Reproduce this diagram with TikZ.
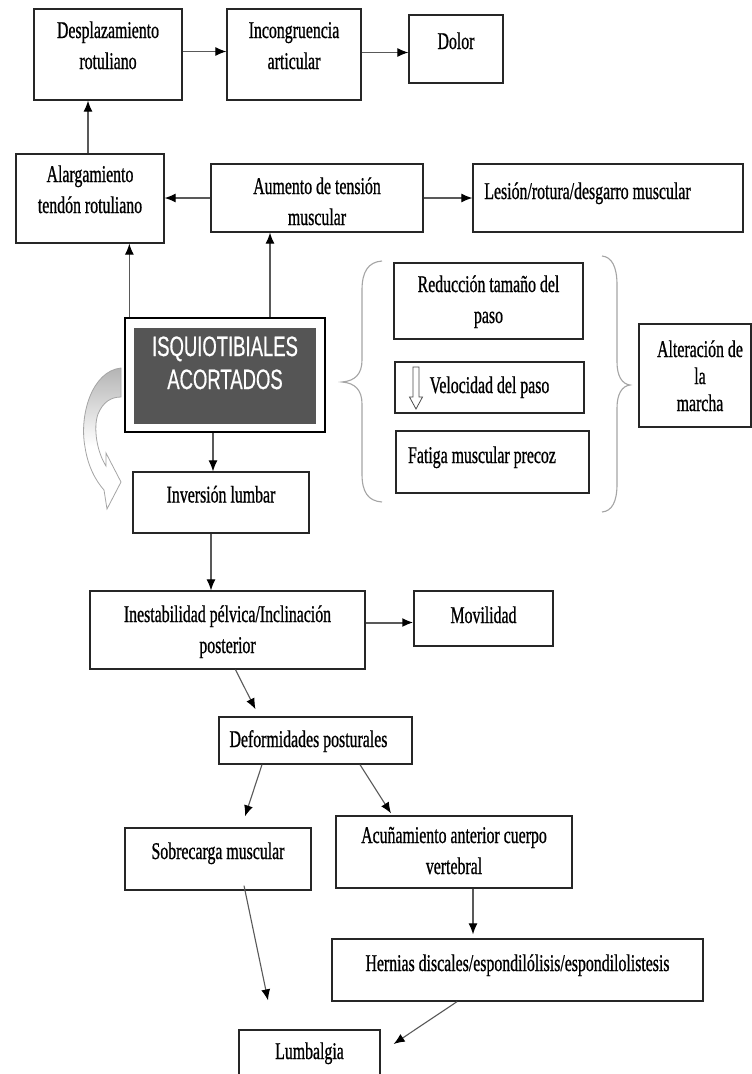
\documentclass[tikz,border=0pt]{standalone}
\usepackage{fontspec}
\setmainfont{Liberation Serif}[FakeStretch=0.66,FakeBold=0.8]
\newfontfamily\isqfont{Liberation Sans}[FakeStretch=0.66,FakeBold=0.6]
\usetikzlibrary{arrows.meta}
\definecolor{isqgris}{RGB}{85,85,85}
\definecolor{llavegris}{RGB}{165,165,165}
\tikzset{
	caja/.style={draw=black!85, line width=1.3pt, inner sep=0pt, align=center, text height=0pt, text depth=0pt, font=\fontsize{24}{31}\selectfont},
	flecha/.style={draw=black!65, line width=1.1pt, -{Latex[length=11pt,width=9pt,color=black]}},
	llave/.style={draw=llavegris, line width=1.1pt},
}
\begin{document}
\begin{tikzpicture}[x=1pt,y=-1pt]
			\useasboundingbox[fill=white] (0,0) rectangle (752,1074);
			\node[caja, minimum width=148, minimum height=91, text height=29pt] (desp) at (108,54.5) {Desplazamiento\\rotuliano};
			\node[caja, minimum width=134, minimum height=91, text height=29pt] (incong) at (294,54.5) {Incongruencia\\articular};
			\node[caja, minimum width=94, minimum height=68] (dolor) at (456,49) {Dolor};
			\node[caja, minimum width=148, minimum height=89, text height=29pt] (alarg) at (90,198.5) {Alargamiento\\tendón rotuliano};
			\node[caja, minimum width=212, minimum height=68, text height=54pt] (aumento) at (317,198) {Aumento de tensión\\muscular};
			\node[caja, minimum width=270, minimum height=68, text height=2pt] (lesion) at (608,198) {Lesión/rotura/desgarro muscular\hspace*{41pt}};
			\node[caja, draw=black, minimum width=200, minimum height=114, text height=28pt, text=white, font=\isqfont\fontsize{28}{33}\selectfont,
				path picture={\fill[isqgris] ([xshift=9pt,yshift=-10pt]path picture bounding box.north west) rectangle ([xshift=-9pt,yshift=8pt]path picture bounding box.south east);}] (isq) at (225,375) {ISQUIOTIBIALES\\ACORTADOS};
			\node[caja, minimum width=189, minimum height=76, text height=44pt] (reduc) at (488.5,301) {Reducción tamaño del\\paso};
			\node[caja, minimum width=189, minimum height=51, text height=11pt] (veloc) at (489.5,387.5) {Velocidad del paso};
			\node[caja, minimum width=193, minimum height=62, text height=2pt] (fatiga) at (492.5,462) {Fatiga muscular precoz\hspace*{21pt}};
			\node[caja, minimum width=112, minimum height=103, text height=71pt, font=\fontsize{24}{27}\selectfont] (alter) at (695,375.5) {\hspace*{10pt}Alteración de\\\hspace*{10pt}la\\\hspace*{10pt}marcha};
			\node[caja, minimum width=176, minimum height=61] (inver) at (221,502.5) {Inversión lumbar};
			\node[caja, minimum width=275, minimum height=78, text height=46pt] (inest) at (227.5,630) {Inestabilidad pélvica/Inclinación\\posterior};
			\node[caja, minimum width=139, minimum height=55, text height=9pt] (movil) at (483.5,618.5) {Movilidad};
			\node[caja, minimum width=193, minimum height=47, text height=13pt] (deform) at (315.5,740.5) {Deformidades posturales\hspace*{14pt}};
			\node[caja, minimum width=186, minimum height=62] (sobre) at (218,859) {Sobrecarga muscular};
			\node[caja, minimum width=236, minimum height=72, text height=44pt] (acun) at (454,852) {Acuñamiento anterior cuerpo\\vertebral};
			\node[caja, minimum width=371, minimum height=62, text height=2pt] (hernias) at (517.5,970) {Hernias discales/espondilólisis/espondilolistesis};
			\node[caja, minimum width=141, minimum height=56, text height=2pt] (lumb) at (309.5,1058) {Lumbalgia};
			\draw[flecha] ([yshift=3pt]desp.east) -- ([yshift=3pt]incong.west);
			\draw[flecha] ([yshift=2pt]incong.east) -- ([yshift=2pt]incong.east -| dolor.west);
			\draw[flecha] ([xshift=-2pt]alarg.north) -- ([xshift=-2pt]alarg.north |- desp.south);
			\draw[flecha] (aumento.west) -- (aumento.west -| alarg.east);
			\draw[flecha] (aumento.east) -- (lesion.west);
			\draw[flecha] ([xshift=5pt]isq.north west) -- ([xshift=5pt]isq.north west |- alarg.south);
			\draw[flecha] ([xshift=45pt]isq.north) -- ([xshift=45pt]isq.north |- aumento.south);
			\draw[flecha] ([xshift=-12pt]isq.south) -- ([xshift=-12pt]isq.south |- inver.north);
			\draw[flecha] ([xshift=-10pt]inver.south) -- ([xshift=-10pt]inver.south |- inest.north);
			\draw[flecha, line width=2pt] ([yshift=-4pt]movil.west -| inest.east) -- ([yshift=-4pt]movil.west);
			\draw[flecha] ([xshift=8pt]inest.south) -- ([xshift=-60pt,yshift=7pt]deform.north);
			\draw[flecha] ([xshift=-53.5pt]deform.south) -- ([xshift=27pt,yshift=11pt]sobre.north);
			\draw[flecha] ([xshift=44.5pt]deform.south) -- ([xshift=-63pt,yshift=2pt]acun.north);
			\draw[flecha, shorten >=4pt] ([xshift=19pt]acun.south) -- ([xshift=19pt]acun.south |- hernias.north);
			\draw[flecha] ([xshift=26pt,yshift=5pt]sobre.south) -- ([xshift=-41.5pt,yshift=29pt]lumb.north);
			\draw[flecha] ([xshift=-60.5pt]hernias.south) -- ([xshift=13pt,yshift=14pt]lumb.east);
			\draw[llave] (382,261) .. controls (368,262) and (362,272) .. (362,290) -- (362,360) .. controls (362,374) and (355,381) .. (342,382) .. controls (355,383) and (362,390) .. (362,404) -- (362,474) .. controls (362,492) and (368,501) .. (382,502);
			\draw[llave] (602,256) .. controls (612,257) and (617,267) .. (617,285) -- (617,362) .. controls (617,376) and (622,384) .. (630,385) .. controls (622,386) and (617,394) .. (617,408) -- (617,484) .. controls (617,502) and (612,511) .. (602,512);
			\draw[black!70, fill=white, line width=0.8pt] (413,367) -- (419,367) -- (419,397) -- (422.5,397) -- (416,409) -- (409.5,397) -- (413,397) -- cycle;
			\begin{scope}
				\clip (121,368) .. controls (92,371) and (79,415) .. (85,447) .. controls (88,467) and (96,481) .. (104,490) -- (107,509) -- (121,482) -- (106,453) -- (106,466) .. controls (97,452) and (93,428) .. (98,414) .. controls (103,402) and (111,397) .. (121,397) -- cycle;
				\shade[top color=black!30, bottom color=white] (78,366) rectangle (124,446);
			\end{scope}
			\draw[llavegris, line width=0.8pt] (121,368) .. controls (92,371) and (79,415) .. (85,447) .. controls (88,467) and (96,481) .. (104,490) -- (107,509) -- (121,482) -- (106,453) -- (106,466) .. controls (97,452) and (93,428) .. (98,414) .. controls (103,402) and (111,397) .. (121,397) -- cycle;
		\end{tikzpicture}
\end{document}
